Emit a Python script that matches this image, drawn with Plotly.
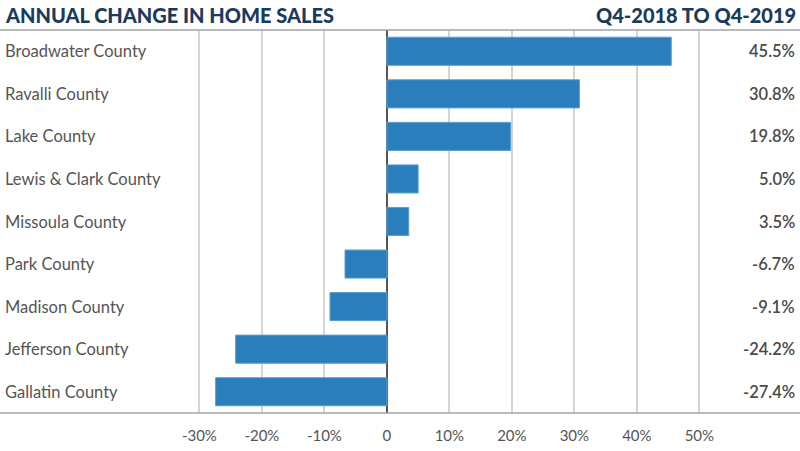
import plotly.graph_objects as go

counties = ["Broadwater County", "Ravalli County", "Lake County", "Lewis & Clark County",
            "Missoula County", "Park County", "Madison County", "Jefferson County", "Gallatin County"]
changes = [45.5, 30.8, 19.8, 5.0, 3.5, -6.7, -9.1, -24.2, -27.4]
value_labels = ["45.5%", "30.8%", "19.8%", "5.0%", "3.5%", "-6.7%", "-9.1%", "-24.2%", "-27.4%"]
tick_vals = [-30, -20, -10, 0, 10, 20, 30, 40, 50]
tick_text = ["-30%", "-20%", "-10%", "0", "10%", "20%", "30%", "40%", "50%"]

title_left = "ANNUAL CHANGE IN HOME SALES"
title_right = "Q4-2018 TO Q4-2019"

W, H = 800, 451
FONT = "Lato"
TFONT = "Lato"
navy = "#1b3a5c"
bar_color = "#2b7ebc"

fig = go.Figure()
fig.add_trace(go.Bar(
    y=counties, x=changes, orientation="h",
    marker=dict(color=bar_color, line=dict(color="#5a9fd2", width=1)),
    width=0.66, hoverinfo="skip",
))

# category labels on the left
for c in counties:
    fig.add_annotation(x=0, xref="paper", y=c, yref="y", text=c, showarrow=False,
                       xanchor="left", xshift=3, font=dict(family=FONT, size=16.5, color="#555555"))
# value labels on right
for c, v in zip(counties, value_labels):
    fig.add_annotation(x=1, xref="paper", y=c, yref="y", text=v, showarrow=False,
                       xanchor="right", xshift=-3, font=dict(family=FONT, size=16.5, color="#4a4a4a", weight=600))

# titles
fig.add_annotation(x=0, xref="paper", y=1, yref="paper", yshift=1, text=title_left, showarrow=False,
                   xanchor="left", yanchor="bottom", xshift=3,
                   font=dict(family=TFONT, size=20, color=navy, weight=900))
fig.add_annotation(x=1, xref="paper", y=1, yref="paper", yshift=1, text=title_right, showarrow=False,
                   xanchor="right", yanchor="bottom", xshift=-2,
                   font=dict(family=TFONT, size=20, color=navy, weight=900))

# top and bottom rules
for yy in (0, 1):
    fig.add_shape(type="line", xref="paper", yref="paper", x0=0, x1=1, y0=yy, y1=yy,
                  line=dict(color="#a0a4a8", width=1.5))

fig.update_layout(
    width=W, height=H,
    margin=dict(l=0, r=0, t=30, b=38),
    paper_bgcolor="white", plot_bgcolor="white",
    showlegend=False,
    bargap=0.34,
    xaxis=dict(range=[-61.9, 66.1], tickvals=tick_vals, ticktext=tick_text,
               showgrid=True, gridcolor="#d4d4d4", gridwidth=1.5,
               zeroline=True, zerolinecolor="#555555", zerolinewidth=1.5,
               tickfont=dict(family=FONT, size=15, color="#555555"),
               ticks="", ticklabelstandoff=12, fixedrange=True),
    yaxis=dict(categoryorder="array", categoryarray=counties[::-1],
               showticklabels=False, showgrid=False, zeroline=False,
               range=[-0.5, len(counties) - 0.5], fixedrange=True),
)

fig.write_html("out.html", config={"displayModeBar": False},
               post_script="document.body.style.margin='0';document.body.style.overflow='hidden';")
